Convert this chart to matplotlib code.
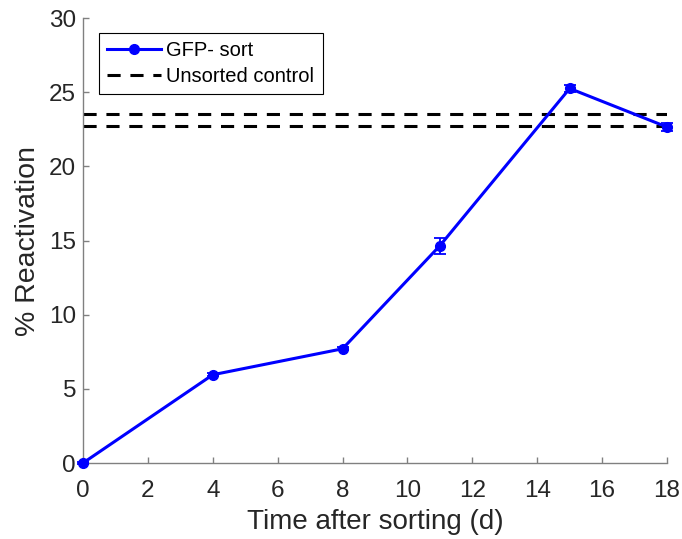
import numpy as np
import matplotlib.pyplot as plt

plt.rcParams['font.family'] = ['Liberation Sans', 'DejaVu Sans']

# データ
days = [0, 4, 8, 11, 15, 18]
reactivation = [0.0, 5.95, 7.7, 14.65, 25.25, 22.65]
errors = [0.05, 0.1, 0.1, 0.55, 0.25, 0.3]
control_levels = [23.55, 22.75]

fig = plt.figure(figsize=(6.82, 5.39), dpi=100)
ax = fig.add_axes([0.1217, 0.141, 0.8563, 0.8256])

# GFP- sort（線＋マーカー、誤差棒は別描画）
ax.plot(days, reactivation, color='blue', marker='o', markersize=7, linewidth=2.2,
        label='GFP- sort', zorder=3, clip_on=False)
ax.errorbar(days, reactivation, yerr=errors, fmt='none', ecolor='blue',
            elinewidth=1.3, capsize=4.3, capthick=1.3, zorder=3, clip_on=False)

# 未ソート対照（破線）
for i, lvl in enumerate(control_levels):
    ax.axhline(lvl, color='black', linestyle=(0, (4.3, 3.2)), linewidth=2.2,
               label='Unsorted control' if i == 0 else None, zorder=2)

ax.set_xlim(0, 18)
ax.set_ylim(0, 30)
ax.set_xticks(range(0, 19, 2))
ax.set_yticks(range(0, 31, 5))

grey = '#262626'
for side in ['top', 'right']:
    ax.spines[side].set_visible(False)
for side in ['left', 'bottom']:
    ax.spines[side].set_color('#808080')
    ax.spines[side].set_linewidth(1)
ax.tick_params(direction='in', length=4, width=1, color='#808080', labelcolor=grey,
               labelsize=17.5)
ax.tick_params(axis='x', pad=12)
ax.tick_params(axis='y', pad=5)

ax.set_xlabel('Time after sorting (d)', fontsize=20, color=grey, labelpad=5)
ax.set_ylabel('% Reactivation', fontsize=20.5, color=grey, labelpad=6)

leg = ax.legend(loc='upper left', bbox_to_anchor=(0.0274, 0.966), fontsize=14.5,
                frameon=True, fancybox=False, edgecolor='black', framealpha=1,
                handlelength=2.7, handletextpad=0.25, borderpad=0.4, labelspacing=0.35,
                borderaxespad=0)
leg.get_frame().set_linewidth(0.8)

fig.savefig('out.png', dpi=100)
